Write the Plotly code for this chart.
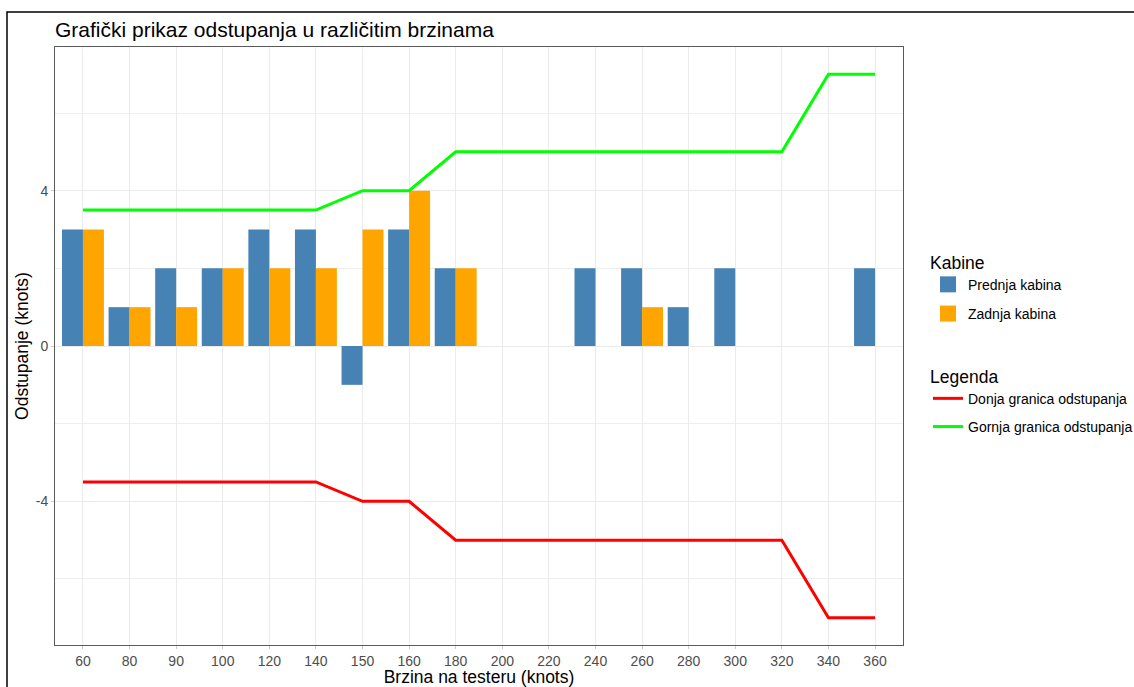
import plotly.graph_objects as go

speeds = ["60", "80", "90", "100", "120", "140", "150", "160", "180", "200",
          "220", "240", "260", "280", "300", "320", "340", "360"]
prednja = [3, 1, 2, 2, 3, 3, -1, 3, 2, None, None, 2, 2, 1, 2, None, None, 2]
zadnja = [3, 1, 1, 2, 2, 2, 3, 4, 2, None, None, None, 1, None, None, None, None, None]
donja = [-3.5, -3.5, -3.5, -3.5, -3.5, -3.5, -4, -4, -5, -5, -5, -5, -5, -5, -5, -5, -7, -7]
gornja = [3.5, 3.5, 3.5, 3.5, 3.5, 3.5, 4, 4, 5, 5, 5, 5, 5, 5, 5, 5, 7, 7]
y_ticks = [-4, 0, 4]
y_ticklabels = ["-4", "0", "4"]
y_minor = [-6, -2, 2, 6]

FONT = "Liberation Sans, Arial, sans-serif"
BLUE = "#4682B4"
ORANGE = "#FFA500"

fig = go.Figure()
fig.add_trace(go.Bar(x=speeds, y=prednja, name="Prednja kabina", legendgroup="p",
                     showlegend=False, marker=dict(color=BLUE, line=dict(width=0))))
fig.add_trace(go.Bar(x=speeds, y=zadnja, name="Zadnja kabina", legendgroup="z",
                     showlegend=False, marker=dict(color=ORANGE, line=dict(width=0))))
# legend keys for the bars (larger square keys)
fig.add_trace(go.Scatter(x=[None], y=[None], mode="markers", name="Prednja kabina",
                         legendgroup="p", legend="legend",
                         marker=dict(symbol="square", size=16, color=BLUE)))
fig.add_trace(go.Scatter(x=[None], y=[None], mode="markers", name="Zadnja kabina",
                         legendgroup="z", legend="legend",
                         marker=dict(symbol="square", size=16, color=ORANGE)))
fig.add_trace(go.Scatter(x=speeds, y=donja, mode="lines", name="Donja granica odstupanja",
                         legendgroup="d", legend="legend2",
                         line=dict(color="#FF0000", width=3)))
fig.add_trace(go.Scatter(x=speeds, y=gornja, mode="lines", name="Gornja granica odstupanja",
                         legendgroup="g", legend="legend2",
                         line=dict(color="#00FF00", width=3)))

W, H = 1134, 687
fig.update_layout(
    width=W, height=H,
    margin=dict(l=55, r=231, t=47, b=42),
    paper_bgcolor="white", plot_bgcolor="white",
    font=dict(family=FONT, color="#000000"),
    barmode="group", bargap=0.1, bargroupgap=0,
    title=dict(text="Grafički prikaz odstupanja u različitim brzinama",
               x=55 / W, xanchor="left", y=1 - 30 / H, yanchor="middle",
               font=dict(size=21, family=FONT, color="#000000")),
    xaxis=dict(type="category", categoryorder="array", categoryarray=speeds,
               range=[-0.6, 17.6], showgrid=True, gridcolor="#EBEBEB", gridwidth=1,
               showline=True, mirror=True, linecolor="#5A5A5A", linewidth=1,
               ticks="outside", ticklen=3, tickcolor="#CCCCCC", automargin=False,
               tickfont=dict(size=14, color="#4D4D4D", family=FONT),
               title=dict(text="Brzina na testeru (knots)", standoff=1,
                          font=dict(size=17.5, family=FONT, color="#000000")),
               zeroline=False),
    yaxis=dict(range=[-7.7, 7.7], tickmode="array", tickvals=y_ticks, ticktext=y_ticklabels,
               showgrid=True, gridcolor="#EBEBEB", gridwidth=1,
               minor=dict(tickmode="array", tickvals=y_minor, showgrid=True,
                          gridcolor="#EEEEEE", gridwidth=1),
               showline=True, mirror=True, linecolor="#5A5A5A", linewidth=1,
               ticks="outside", ticklen=3, tickcolor="#CCCCCC", automargin=False,
               tickfont=dict(size=14, color="#4D4D4D", family=FONT),
               title=dict(text="Odstupanje (knots)", standoff=2,
                          font=dict(size=17.5, family=FONT, color="#000000")),
               zeroline=False),
    legend=dict(title=dict(text="Kabine", font=dict(size=17.5, family=FONT)),
                xref="container", yref="container",
                x=928 / W, xanchor="left", y=1 - 246 / H, yanchor="top",
                font=dict(size=14, family=FONT), traceorder="grouped",
                bgcolor="rgba(0,0,0,0)", itemwidth=30, tracegroupgap=8),
    legend2=dict(title=dict(text="Legenda", font=dict(size=17.5, family=FONT)),
                 xref="container", yref="container",
                 x=928 / W, xanchor="left", y=1 - 360 / H, yanchor="top",
                 font=dict(size=14, family=FONT), traceorder="grouped",
                 bgcolor="rgba(0,0,0,0)", itemwidth=30, tracegroupgap=7),
    shapes=[dict(type="rect", xref="paper", yref="paper",
                 x0=(7 - 55) / 848, x1=1.4, y0=-0.3, y1=(645 - 12) / 598,
                 line=dict(color="#000000", width=1.5), fillcolor="rgba(0,0,0,0)",
                 layer="below")],
)

fig.write_html("out.html", config={"displayModeBar": False},
               post_script="document.body.style.margin='0px';")
